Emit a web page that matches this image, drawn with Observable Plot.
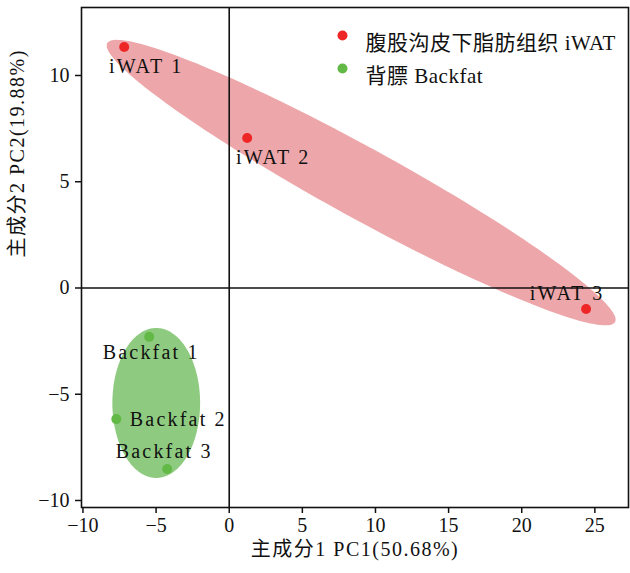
<!DOCTYPE html>
<html><head><meta charset="utf-8">
<script src="https://cdn.jsdelivr.net/npm/d3@7"></script>
<script src="https://cdn.jsdelivr.net/npm/@observablehq/plot@0.6"></script>
<style>
body{margin:0;background:#fff;}
#chart .lbl text{letter-spacing:2.2px;}
#chart .axlbl text{letter-spacing:1.5px;}
#chart .leg text{letter-spacing:0.5px;}
</style></head><body><div id="chart"></div>
<script>
// ---- data ----
const groups = ["腹股沟皮下脂肪组织 iWAT", "背膘 Backfat"];
const groupColors = ["#EE2626", "#62B946"];
const ellipseColors = ["#EDA7AA", "#8ECB80"];
const sampleNames = ["iWAT 1", "iWAT 2", "iWAT 3", "Backfat 1", "Backfat 2", "Backfat 3"];
const sampleGroup = [0, 0, 0, 1, 1, 1];
const pc1 = [-7.18, 1.23, 24.4, -5.47, -7.72, -4.24];
const pc2 = [11.34, 7.06, -0.99, -2.3, -6.17, -8.52];
// ellipse parameters (data units): centre and the two semi-axis vectors
const ellipseCx = [9.02, -4.99];
const ellipseCy = [4.96, -5.41];
const ellipseAx = [17.36, 3.0];
const ellipseAy = [-6.56, 0];
const ellipseBx = [1.15, 0];
const ellipseBy = [1.45, 3.53];
const xTicks = [-10, -5, 0, 5, 10, 15, 20, 25];
const yTicks = [-10, -5, 0, 5, 10];
const xLabel = "主成分1 PC1(50.68%)";
const yLabel = "主成分2 PC2(19.88%)";

// ---- layout (label offsets in px) ----
const labelOffsets = [[22, 20], [26, 20], [-19, -15], [2, 16], [62, 0], [-3, -17]];

const samples = sampleNames.map((n, i) => ({name: n, g: sampleGroup[i], x: pc1[i], y: pc2[i]}));

function ellipsePts(k) {
  const pts = [];
  for (let a = 0; a < 360; a += 2) {
    const t = a * Math.PI / 180;
    pts.push({
      x: ellipseCx[k] + Math.cos(t) * ellipseAx[k] + Math.sin(t) * ellipseBx[k],
      y: ellipseCy[k] + Math.cos(t) * ellipseAy[k] + Math.sin(t) * ellipseBy[k]
    });
  }
  return pts;
}

const font = '"Liberation Serif", "Noto Sans CJK SC", serif';
const marks = [];
groups.forEach((g, k) => {
  marks.push(Plot.line(ellipsePts(k), {x: "x", y: "y", fill: ellipseColors[k], stroke: "none", curve: "linear-closed"}));
});
marks.push(Plot.ruleX([0], {stroke: "#111", strokeWidth: 1.6}));
marks.push(Plot.ruleY([0], {stroke: "#111", strokeWidth: 1.6}));
marks.push(Plot.frame({stroke: "#111", strokeWidth: 1.6}));
marks.push(Plot.dot(samples, {x: "x", y: "y", r: 5, fill: d => groupColors[d.g], stroke: "none"}));
samples.forEach((s, i) => {
  marks.push(Plot.text([s], {x: "x", y: "y", text: "name", dx: labelOffsets[i][0], dy: labelOffsets[i][1], fontSize: 20, fill: "#111", className: "lbl"}));
});
// legend
groups.forEach((g, k) => {
  marks.push(Plot.dot([g], {frameAnchor: "top-left", dx: 261, dy: 28 + 33 * k, r: 5, fill: groupColors[k]}));
  marks.push(Plot.text([g], {frameAnchor: "top-left", text: d => d, dx: 284, dy: 28 + 33 * k, textAnchor: "start", fontSize: 21, fill: "#111", className: "leg"}));
});
marks.push(Plot.axisX({ticks: xTicks, tickSize: 6, tickPadding: 4, fontSize: 20, label: null, stroke: "#111", strokeWidth: 1.5, color: "#111"}));
marks.push(Plot.axisY({ticks: yTicks, tickSize: 6, tickPadding: 6, fontSize: 20, label: null, stroke: "#111", strokeWidth: 1.5, color: "#111"}));
marks.push(Plot.text([xLabel], {frameAnchor: "bottom", text: d => d, dy: 48, fontSize: 20, fill: "#111", className: "axlbl"}));
marks.push(Plot.text([yLabel], {frameAnchor: "left", text: d => d, dx: -64, rotate: -90, fontSize: 20, fill: "#111", className: "axlbl"}));

const chart = Plot.plot({
  width: 630, height: 573,
  marginLeft: 81, marginRight: 2, marginTop: 7, marginBottom: 66,
  x: {domain: [-10.1, 27.3]},
  y: {domain: [-10.33, 13.2]},
  style: {fontFamily: font, fontSize: "20px", background: "#fff", color: "#111"},
  marks
});
document.getElementById("chart").appendChild(chart);
</script></body></html>
